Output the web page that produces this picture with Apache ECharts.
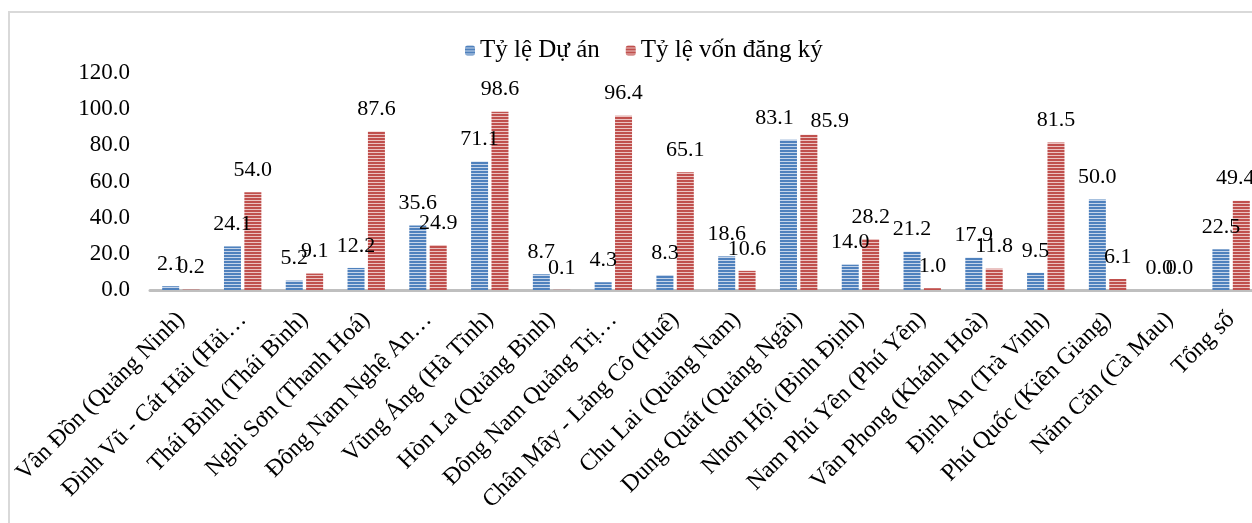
<!DOCTYPE html>
<html>
<head>
<meta charset="utf-8">
<script src="https://cdn.jsdelivr.net/npm/echarts@6/dist/echarts.min.js"></script>
<style>
html,body{margin:0;padding:0;background:#fff;overflow:hidden;width:1252px;height:523px;}
#frame{position:absolute;left:8px;top:11px;width:1300px;height:600px;border:2px solid #D9D9D9;box-sizing:border-box;}
#chart{position:absolute;left:0;top:0;width:1262px;height:523px;}
</style>
</head>
<body>
<div id="frame"></div>
<div id="chart"></div>
<script>
const categories = ["Vân Đồn (Quảng Ninh)","Đình Vũ - Cát Hải (Hải…","Thái Bình (Thái Bình)","Nghi Sơn (Thanh Hoá)","Đông Nam Nghệ An…","Vũng Áng (Hà Tĩnh)","Hòn La (Quảng Bình)","Đông Nam Quảng Trị…","Chân Mây - Lăng Cô (Huế)","Chu Lai (Quảng Nam)","Dung Quất (Quảng Ngãi)","Nhơn Hội (Bình Định)","Nam Phú Yên (Phú Yên)","Vân Phong (Khánh Hoà)","Định An (Trà Vinh)","Phú Quốc (Kiên Giang)","Năm Căn (Cà Mau)","Tổng số"];
const seriesNames = ["Tỷ lệ Dự án","Tỷ lệ vốn đăng ký"];
const duAn = [2.1,24.1,5.2,12.2,35.6,71.1,8.7,4.3,8.3,18.6,83.1,14.0,21.2,17.9,9.5,50.0,0.0,22.5];
const vonDangKy = [0.2,54.0,9.1,87.6,24.9,98.6,0.1,96.4,65.1,10.6,85.9,28.2,1.0,11.8,81.5,6.1,0.0,49.4];
const yTicks = [0,20,40,60,80,100,120];

// label nudges (style only), keyed by category index
const duAnLabelNudge = {10: [-14, 0]};
const vonLabelNudge = {10: [21, 9], 17: [-6, 0]};

function stripe(base, light){
  const c = document.createElement('canvas');
  c.width = 4; c.height = 3;
  const ctx = c.getContext('2d');
  ctx.fillStyle = base; ctx.fillRect(0,0,4,2);
  ctx.fillStyle = light; ctx.fillRect(0,2,4,1);
  return {image: c, repeat: 'repeat'};
}
const FONT = '"Liberation Serif","Times New Roman",serif';
const blue = stripe('#4F81BD', '#C6D5EA');
const red = stripe('#C0504D', '#EBC3C2');

function items(values, nudge){
  return values.map((v, i) => nudge[i] ? {value: v, label: {offset: nudge[i]}} : v);
}

const chart = echarts.init(document.getElementById('chart'), null, {renderer:'canvas'});
const labelOpt = {show:true, position:'top', distance:11, color:'#000', fontFamily:FONT, fontSize:22,
  formatter: p => Number(p.value).toFixed(1)};
chart.setOption({
  animation:false,
  textStyle:{fontFamily:FONT},
  legend:{top:33, left:460, itemWidth:10, itemHeight:10, itemGap:26,
    textStyle:{fontFamily:FONT, fontSize:25, color:'#000'},
    data:seriesNames},
  grid:{left:150, right:0, top:73, bottom:233, containLabel:false},
  xAxis:{type:'category', data:categories,
    axisLine:{lineStyle:{color:'#BFBFBF', width:3}},
    axisTick:{show:false},
    axisLabel:{rotate:45, interval:0, margin:26, color:'#000', fontFamily:FONT, fontSize:24}},
  yAxis:{type:'value', min:yTicks[0], max:yTicks[yTicks.length-1], interval:20,
    splitLine:{show:false}, axisLine:{show:false}, axisTick:{show:false},
    axisLabel:{margin:20, color:'#000', fontFamily:FONT, fontSize:23, formatter:v=>v.toFixed(1)}},
  series:[
    {name:seriesNames[0], type:'bar', data:items(duAn, duAnLabelNudge), barWidth:17, barGap:'20%', itemStyle:{color:blue}, label:labelOpt},
    {name:seriesNames[1], type:'bar', data:items(vonDangKy, vonLabelNudge), barWidth:17, barGap:'20%', itemStyle:{color:red}, label:labelOpt}
  ]
});
</script>
</body>
</html>
